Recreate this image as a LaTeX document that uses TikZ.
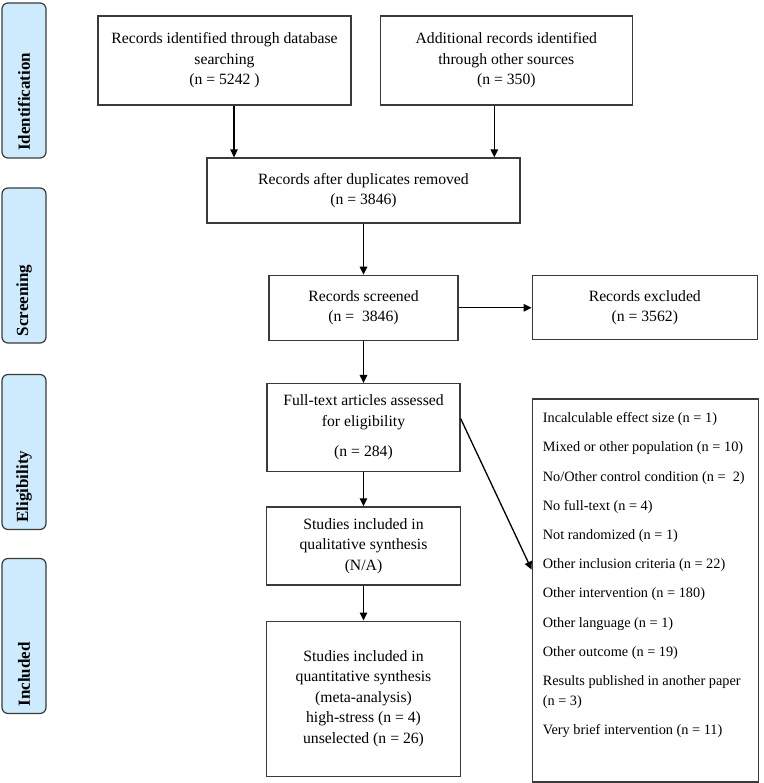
\documentclass[tikz,border=0pt]{standalone}
\usepackage{fontspec}
\setmainfont{Liberation Serif}
\usetikzlibrary{positioning,arrows.meta}
\definecolor{phaseblue}{HTML}{CDEBFD}
\definecolor{boxline}{HTML}{3A3A3A}

\begin{document}
\begin{tikzpicture}[x=1pt, y=-1pt,
    box/.style={draw=boxline, line width=1.3pt, inner sep=0pt, align=center, font=\fontsize{15.7}{20.5}\selectfont},
    phase/.style={draw=boxline, fill=phaseblue, line width=1.2pt, rounded corners=6pt, rotate=90, minimum width=155pt, minimum height=44pt, inner sep=0pt, text width=155pt, align=left, font=\fontsize{17}{20}\selectfont\bfseries},
    arr/.style={line width=1.3pt, -{Triangle[length=8pt, width=7.5pt]}}
  ]
\useasboundingbox (0,0) rectangle (763,783);

% Phase labels on the left
\foreach \y/\name/\txt in {80.5/ident/Identification, 265.5/screen/Screening, 452/elig/Eligibility, 636/incl/Included} {
    \node[phase] (\name) at (24,\y) {\hspace*{7pt}\txt};
}

% Identification
\node[box, minimum width=253pt, minimum height=89pt] (db) at (224.5,60.5) {Records identified through database\\searching\\(n = 5242 )};
\node[box, right=28pt of db, minimum width=252pt, minimum height=89pt] (other) {Additional records identified\\through other sources\\(n = 350)};

% Screening
\node[box, minimum width=313pt, minimum height=65pt] (dup) at (363.5,190.5) {Records after duplicates removed\\(n = 3846)};
\node[box, below=51pt of dup, minimum width=189pt, minimum height=65pt] (scr) {Records screened\\(n =~ 3846)};
\node[box, right=73pt of scr, minimum width=225pt, minimum height=64pt] (exc) {Records excluded\\(n = 3562)};

% Eligibility and inclusion
\node[box, below=42pt of scr, minimum width=193pt, minimum height=88pt] (full) {Full-text articles assessed\\for eligibility\\[10pt](n = 284)};
\node[box, below=34pt of full, minimum width=194pt, minimum height=78pt] (qual) {Studies included in\\qualitative synthesis\\(N/A)};
\node[box, below=35pt of qual, minimum width=194pt, minimum height=155pt] (quant) {Studies included in\\quantitative synthesis\\(meta-analysis)\\high-stress (n = 4)\\unselected (n = 26)};

% Reasons for exclusion of full texts
\node[box, below=58pt of exc.south west, anchor=north west, minimum width=226pt, minimum height=383pt] (reasons) {};
\node[anchor=north west, align=left, inner sep=0pt, font=\fontsize{14.3}{19.7}\selectfont] (reasonlist) at ([xshift=11pt, yshift=-14pt]reasons.north west) {%
Incalculable effect size (n = 1)\\[9.5pt]
Mixed or other population (n = 10)\\[9.5pt]
No/Other control condition (n =~ 2)\\[9.5pt]
No full-text (n = 4)\\[9.5pt]
Not randomized (n = 1)\\[9.5pt]
Other inclusion criteria (n = 22)\\[9.5pt]
Other intervention (n = 180)\\[9.5pt]
Other language (n = 1)\\[9.5pt]
Other outcome (n = 19)\\[9.5pt]
Results published in another paper\\
(n = 3)\\[9.5pt]
Very brief intervention (n = 11)};

% Arrows
\draw[arr] ([xshift=9.5pt]db.south) -- ([xshift=9.5pt]db.south |- dup.north);
\draw[arr] ([xshift=-12pt]other.south) -- ([xshift=-12pt]other.south |- dup.north);
\draw[arr] (dup) -- (scr);
\draw[arr] (scr) -- (exc);
\draw[arr] (scr) -- (full);
\draw[arr] ([yshift=9pt]full.east) -- ([yshift=21pt]reasons.west);
\draw[arr] (full) -- (qual);
\draw[arr] (qual) -- (quant);

\end{tikzpicture}
\end{document}
